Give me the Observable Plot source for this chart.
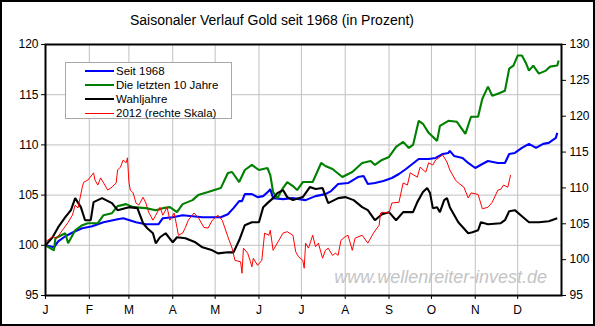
<!DOCTYPE html>
<html><head><meta charset="utf-8">
<script src="https://cdn.jsdelivr.net/npm/d3@7"></script>
<script src="https://cdn.jsdelivr.net/npm/@observablehq/plot@0.6"></script>
<style>
body{margin:0;background:#fff;font-family:Arial,"Liberation Sans",sans-serif;}
#wrap{position:relative;width:595px;height:326px;overflow:hidden;background:#fff;}
#chart{position:absolute;left:0;top:0;}
#border{position:absolute;left:0;top:0;width:595px;height:326px;box-sizing:border-box;border:2px solid #000;pointer-events:none;}
#title{position:absolute;left:0;top:12px;width:544px;text-align:center;font-size:14px;line-height:16px;color:#000;white-space:nowrap;}
#legend{position:absolute;left:65px;top:62px;width:167px;height:57px;box-sizing:border-box;border:1px solid #a8a8a8;background:#fff;}
.row{position:absolute;left:0;height:14px;font-size:11.5px;line-height:14px;white-space:nowrap;}
.row .sw{position:absolute;left:19px;width:29px;}
.row .lb{position:absolute;left:50px;top:0;}
</style></head>
<body>
<div id="wrap">
  <div id="chart"></div>
  <div id="title">Saisonaler Verlauf Gold seit 1968 (in Prozent)</div>
  <div id="legend"></div>
  <div id="border"></div>
</div>
<script>
const months = ["J","F","M","A","M","J","J","A","S","O","N","D"];
const leftTicks = [95,100,105,110,115,120];
const rightTicks = [95,100,105,110,115,120,125,130];
const leftDomain = [95,120];
const rightDomain = [95,130];
const seriesNames = ["Seit 1968","Die letzten 10 Jahre","Wahljahre","2012 (rechte Skala)"];

// [day of year, value]
const seit1968 = [[0,100.0],[6,99.8],[9,100.4],[14,100.9],[21,101.4],[26,101.7],[33,101.9],[41,102.3],[51,102.6],[55,102.7],[64,102.3],[71,102.1],[80,102.1],[83,102.7],[90,102.8],[97,103.0],[104,102.9],[111,102.8],[118,102.8],[124,102.8],[129,103.1],[133,103.7],[137,104.4],[139,104.4],[141,105.1],[146,105.1],[150,104.8],[154,104.9],[158,105.4],[159,105.6],[161,104.7],[168,104.6],[175,104.7],[184,104.5],[191,104.9],[198,105.1],[202,105.4],[207,106.1],[214,106.2],[221,106.8],[225,106.9],[228,106.1],[233,106.2],[239,106.4],[245,106.7],[250,107.1],[255,107.6],[264,108.6],[271,108.6],[276,108.7],[281,109.1],[285,109.2],[286,109.4],[289,108.9],[295,108.7],[299,108.2],[304,107.7],[309,108.1],[313,108.4],[320,108.2],[325,108.2],[328,109.1],[332,109.2],[337,109.7],[342,110.1],[347,109.7],[352,110.1],[356,110.2],[361,110.7],[362,111.2]];

const letzte10 = [[0,100.0],[6,99.5],[7,100.7],[14,101.2],[16,100.2],[21,101.5],[26,102.0],[30,102.2],[37,102.2],[41,103.0],[47,103.2],[51,103.9],[57,104.1],[62,103.8],[71,103.7],[78,103.5],[83,103.7],[88,103.8],[93,103.3],[97,104.1],[104,104.5],[108,105.0],[115,105.3],[124,105.7],[129,107.2],[132,107.3],[137,106.3],[141,107.5],[146,108.0],[151,107.5],[157,107.7],[159,107.0],[161,105.3],[164,104.7],[168,105.7],[171,106.3],[175,105.9],[178,105.5],[182,106.3],[189,106.3],[195,108.2],[198,107.9],[203,107.6],[210,106.8],[217,107.3],[224,108.2],[230,108.4],[233,108.0],[238,108.5],[243,108.8],[248,109.8],[253,110.3],[257,109.7],[260,110.0],[264,112.4],[267,112.1],[271,111.2],[277,110.4],[279,111.9],[285,112.4],[291,112.3],[297,111.1],[301,112.8],[306,112.8],[309,114.6],[313,115.8],[316,114.9],[320,115.1],[325,115.4],[328,117.6],[331,117.9],[334,118.9],[337,118.9],[340,118.1],[342,117.4],[345,117.9],[349,117.1],[354,117.4],[357,117.8],[362,117.9],[363,118.4]];

const wahljahre = [[0,100.0],[5,100.8],[9,101.8],[14,102.8],[18,103.5],[21,104.7],[25,103.8],[28,102.5],[32,102.5],[34,104.3],[40,104.7],[47,104.2],[51,103.5],[59,103.8],[65,103.7],[69,102.2],[72,101.7],[76,101.2],[78,100.2],[81,100.8],[85,101.2],[90,100.3],[93,100.8],[99,100.7],[106,100.3],[111,99.8],[118,99.5],[122,99.2],[129,99.3],[133,99.3],[137,100.5],[141,102.0],[146,102.3],[151,102.3],[154,103.8],[157,104.2],[161,104.7],[164,105.2],[168,105.5],[171,104.8],[175,104.5],[182,104.8],[187,105.8],[191,105.6],[196,105.7],[200,104.2],[207,104.7],[212,104.8],[218,104.5],[224,103.8],[228,103.5],[233,102.5],[238,103.1],[243,103.3],[248,102.5],[253,103.3],[260,103.3],[263,104.3],[267,105.3],[270,105.7],[272,105.2],[274,103.7],[277,103.8],[279,103.3],[282,104.5],[284,104.7],[286,103.8],[292,102.3],[299,101.2],[302,101.3],[306,101.5],[308,102.3],[313,102.1],[322,102.2],[325,102.5],[328,103.4],[332,103.5],[337,102.9],[342,102.3],[349,102.3],[356,102.4],[362,102.7]];

// right scale
const jahr2012 = [[0,102.5],[5,103.2],[8,103.0],[12,104.1],[16,105.2],[19,106.2],[21,107.6],[23,107.2],[26,110.1],[27,110.8],[30,111.1],[34,112.1],[35,111.1],[37,110.4],[39,111.4],[42,110.4],[44,109.7],[47,110.1],[50,110.7],[51,112.5],[53,112.9],[55,113.9],[57,113.5],[58,114.2],[59,110.8],[60,109.7],[62,109.3],[64,107.9],[66,107.6],[69,108.7],[71,107.9],[73,106.6],[76,105.5],[78,106.2],[81,107.3],[83,106.2],[86,107.3],[88,105.5],[91,106.5],[93,104.5],[94,103.4],[97,103.7],[99,104.5],[101,105.5],[105,106.5],[108,105.9],[112,104.5],[115,104.4],[118,105.5],[122,106.2],[125,105.5],[129,103.2],[132,101.6],[134,99.9],[138,99.7],[139,98.1],[140,101.6],[143,100.9],[145,99.7],[146,99.0],[147,100.2],[150,99.2],[153,99.9],[155,103.7],[158,103.4],[159,104.1],[161,101.3],[168,103.7],[171,103.9],[175,103.4],[177,101.1],[179,100.4],[182,99.9],[183,98.8],[184,102.3],[186,101.6],[189,103.4],[191,101.8],[193,102.3],[196,100.2],[198,101.3],[200,101.6],[203,100.6],[205,100.9],[207,100.6],[209,102.7],[212,103.2],[214,103.4],[217,101.3],[219,103.0],[224,103.4],[228,102.3],[232,103.7],[236,104.8],[237,106.5],[238,106.6],[243,106.5],[245,107.9],[250,108.0],[253,110.7],[256,110.4],[258,112.1],[263,111.5],[265,112.9],[269,112.2],[271,113.5],[274,113.2],[276,113.9],[281,114.6],[284,113.6],[286,112.5],[290,111.1],[292,110.7],[296,110.1],[299,108.6],[301,109.3],[306,109.1],[309,107.1],[313,107.3],[316,108.0],[320,109.7],[322,109.8],[324,110.4],[327,110.1],[329,111.8]];

const styles = [
  {color:"#0000ff", width:2.1},
  {color:"#008000", width:2.1},
  {color:"#000000", width:2.1},
  {color:"#ff0000", width:1}
];

const t0 = Date.UTC(2001,0,1);
const toDate = d => new Date(t0 + d*864e5);
const r2l = v => leftDomain[0] + (v-rightDomain[0])*(leftDomain[1]-leftDomain[0])/(rightDomain[1]-rightDomain[0]);
const l2r = v => rightDomain[0] + (v-leftDomain[0])*(rightDomain[1]-rightDomain[0])/(leftDomain[1]-leftDomain[0]);

const allData = [seit1968, letzte10, wahljahre, jahr2012];
const rows = allData.map((arr,i) => arr.map(([d,v]) => ({name:seriesNames[i], date:toDate(d), y: i===3 ? r2l(v) : v})));
const monthTicks = d3.utcMonth.range(toDate(0), toDate(365));

const plot = Plot.plot({
  width:595, height:326,
  marginLeft:45, marginRight:34, marginTop:44, marginBottom:31,
  style:{fontFamily:"Arial, 'Liberation Sans', sans-serif", fontSize:"12px", background:"transparent", color:"#000", overflow:"visible"},
  x:{type:"utc", domain:[toDate(0), toDate(365)]},
  y:{domain:leftDomain},
  marks:[
    Plot.gridX(monthTicks, {stroke:"#c0c0c0", strokeOpacity:1}),
    Plot.gridY(leftTicks, {stroke:"#c0c0c0", strokeOpacity:1}),
    ...rows.map((r,i) => Plot.line(r, {x:"date", y:"y", stroke:styles[i].color, strokeWidth:styles[i].width, strokeLinejoin:"miter", strokeLinecap:"butt"})),
    Plot.axisY(leftTicks, {anchor:"left", tickSize:4, tickPadding:3, label:null}),
    Plot.axisY(rightTicks.map(r2l), {anchor:"right", tickSize:4, tickPadding:4, label:null, tickFormat: d => String(Math.round(l2r(d)))}),
    Plot.axisX(monthTicks, {anchor:"bottom", tickSize:4, tickPadding:6, label:null, tickFormat: d => months[d.getUTCMonth()]}),
    Plot.frame({stroke:"#000", strokeWidth:2})
  ]
});
document.getElementById("chart").appendChild(plot);

// watermark
d3.select(plot).insert("text", "g")
  .attr("x", 547).attr("y", 283)
  .attr("text-anchor", "end")
  .attr("fill", "#c4c4c4")
  .style("font-family", "Arial, 'Liberation Sans', sans-serif")
  .style("font-style", "italic")
  .style("font-size", "18px")
  .text("www.wellenreiter-invest.de");

// legend
const leg = document.getElementById("legend");
seriesNames.forEach((n,i) => {
  const row = document.createElement("div");
  row.className = "row";
  row.style.top = (1 + i*14) + "px";
  const sw = document.createElement("div");
  sw.className = "sw";
  sw.style.height = (i===3 ? 1 : 2) + "px";
  sw.style.top = (7 - (i===3 ? 0 : 1)) + "px";
  sw.style.background = styles[i].color;
  const lb = document.createElement("span");
  lb.className = "lb";
  lb.textContent = n;
  row.appendChild(sw); row.appendChild(lb);
  leg.appendChild(row);
});
</script>
</body></html>
